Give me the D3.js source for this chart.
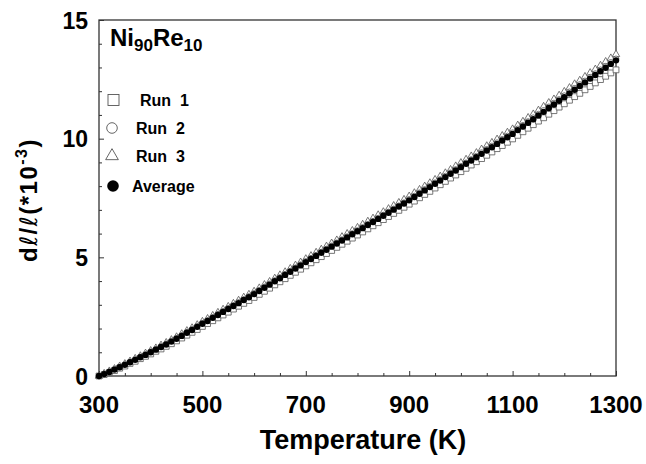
<!DOCTYPE html>
<html><head><meta charset="utf-8">
<script src="https://cdn.jsdelivr.net/npm/d3@7/dist/d3.min.js"></script>
<style>body{margin:0;background:#fff}svg{display:block}text{font-family:"Liberation Sans",Arial,sans-serif;font-weight:bold;fill:#000}</style>
</head><body><svg id="c" width="646" height="464"></svg>
<script>
const temps = [300,310,320,330,340,350,360,370,380,390,400,410,420,430,440,450,460,470,480,490,500,510,520,530,540,550,560,570,580,590,600,610,620,630,640,650,660,670,680,690,700,710,720,730,740,750,760,770,780,790,800,810,820,830,840,850,860,870,880,890,900,910,920,930,940,950,960,970,980,990,1000,1010,1020,1030,1040,1050,1060,1070,1080,1090,1100,1110,1120,1130,1140,1150,1160,1170,1180,1190,1200,1210,1220,1230,1240,1250,1260,1270,1280,1290,1300];
const run1 = [0,0.06,0.14,0.23,0.33,0.42,0.53,0.62,0.73,0.83,0.93,1.04,1.14,1.25,1.36,1.48,1.60,1.72,1.84,1.96,2.09,2.21,2.33,2.45,2.57,2.69,2.82,2.94,3.06,3.18,3.31,3.44,3.57,3.70,3.84,3.97,4.10,4.24,4.37,4.50,4.64,4.77,4.90,5.03,5.16,5.29,5.42,5.55,5.68,5.81,5.94,6.07,6.20,6.33,6.46,6.59,6.72,6.85,6.98,7.11,7.24,7.37,7.51,7.65,7.78,7.92,8.06,8.20,8.34,8.47,8.61,8.75,8.89,9.03,9.16,9.30,9.44,9.58,9.71,9.85,9.99,10.14,10.29,10.44,10.59,10.74,10.88,11.03,11.18,11.33,11.47,11.62,11.77,11.91,12.06,12.20,12.35,12.49,12.63,12.77,12.90];
const run2 = [0,0.09,0.18,0.28,0.38,0.48,0.59,0.69,0.80,0.91,1.02,1.13,1.24,1.35,1.47,1.59,1.71,1.84,1.96,2.09,2.22,2.34,2.47,2.60,2.72,2.85,2.97,3.10,3.22,3.35,3.48,3.61,3.75,3.88,4.02,4.15,4.29,4.42,4.56,4.69,4.83,4.96,5.09,5.22,5.35,5.48,5.61,5.74,5.87,6.00,6.13,6.26,6.39,6.52,6.65,6.78,6.91,7.04,7.17,7.30,7.44,7.58,7.72,7.86,8.00,8.14,8.28,8.42,8.56,8.70,8.84,8.98,9.12,9.26,9.41,9.55,9.69,9.83,9.97,10.11,10.25,10.41,10.56,10.72,10.88,11.03,11.19,11.34,11.50,11.65,11.81,11.97,12.12,12.28,12.43,12.59,12.74,12.90,13.05,13.21,13.36];
const run3 = [0,0.10,0.20,0.30,0.41,0.51,0.62,0.73,0.84,0.95,1.06,1.17,1.29,1.40,1.52,1.64,1.77,1.90,2.02,2.15,2.29,2.41,2.54,2.67,2.80,2.92,3.05,3.18,3.31,3.43,3.56,3.70,3.84,3.97,4.11,4.25,4.38,4.52,4.66,4.79,4.93,5.06,5.20,5.33,5.46,5.59,5.72,5.86,5.99,6.12,6.25,6.38,6.51,6.64,6.78,6.91,7.04,7.17,7.30,7.43,7.57,7.71,7.85,7.99,8.13,8.27,8.41,8.55,8.69,8.84,8.98,9.12,9.26,9.40,9.55,9.69,9.83,9.97,10.12,10.26,10.40,10.56,10.72,10.88,11.03,11.19,11.35,11.51,11.66,11.82,11.98,12.14,12.30,12.45,12.61,12.77,12.92,13.08,13.24,13.39,13.55];
const average = [0,0.08,0.17,0.27,0.37,0.47,0.58,0.68,0.79,0.89,1.00,1.11,1.22,1.33,1.45,1.57,1.69,1.82,1.94,2.07,2.20,2.32,2.45,2.57,2.70,2.82,2.95,3.07,3.20,3.32,3.45,3.58,3.72,3.85,3.99,4.12,4.26,4.39,4.53,4.66,4.80,4.93,5.06,5.19,5.32,5.45,5.58,5.71,5.84,5.97,6.10,6.23,6.36,6.49,6.62,6.75,6.88,7.01,7.14,7.27,7.40,7.54,7.68,7.82,7.96,8.10,8.24,8.38,8.52,8.66,8.80,8.94,9.08,9.22,9.36,9.50,9.64,9.78,9.92,10.06,10.20,10.36,10.51,10.67,10.82,10.98,11.13,11.29,11.44,11.60,11.75,11.91,12.06,12.22,12.37,12.53,12.68,12.84,12.99,13.15,13.30];
const xTicks = [300,500,700,900,1100,1300];
const yTicks = [0,5,10,15];
const legendLabels = ["Run  1","Run  2","Run  3","Average"];

const svg = d3.select("#c");
const L=99, R=616, T=20, B=376;
const x = d3.scaleLinear().domain([300,1300]).range([L,R]);
const y = d3.scaleLinear().domain([0,15]).range([B,T]);
const axisColor = "#333";

// frame
svg.append("rect").attr("x",L).attr("y",T).attr("width",R-L).attr("height",B-T)
  .attr("fill","none").attr("stroke",axisColor).attr("stroke-width",1.3);

// bottom axis: ticks inward
const gx = svg.append("g").attr("transform",`translate(0,${B})`)
  .call(d3.axisBottom(x).tickValues(d3.range(300,1301,50)).tickSize(-3).tickFormat(""));
gx.select(".domain").remove();
gx.selectAll("line").attr("stroke",axisColor).attr("stroke-width",1);
gx.selectAll(".tick").filter(d=>xTicks.includes(d)).select("line").attr("y2",-5);
svg.append("g").selectAll("text").data(xTicks).join("text")
  .attr("x",d=>x(d)).attr("y",413).attr("text-anchor","middle")
  .style("font-size","24px").text(d=>d);

// left axis
const gy = svg.append("g").attr("transform",`translate(${L},0)`)
  .call(d3.axisLeft(y).tickValues(d3.range(0,15.5,1)).tickSize(-3).tickFormat(""));
gy.select(".domain").remove();
gy.selectAll("line").attr("stroke",axisColor).attr("stroke-width",1);
gy.selectAll(".tick").filter(d=>yTicks.includes(d)).select("line").attr("x2",5);
svg.append("g").selectAll("text").data(yTicks).join("text")
  .attr("x",88).attr("y",d=>y(d)+8.5).attr("text-anchor","end")
  .style("font-size","23px").text(d=>d);

// axis titles
svg.append("text").attr("x",363).attr("y",449).attr("text-anchor","middle")
  .style("font-size","27px").text("Temperature (K)");
const yt = svg.append("text").attr("transform","translate(37,200) rotate(-90)")
  .attr("text-anchor","middle").style("font-size","24px").style("letter-spacing","1.5px");
yt.append("tspan").text("d");
yt.append("tspan").style("font-family","DejaVu Sans").style("font-weight","normal").text("\u2113");
yt.append("tspan").text("/");
yt.append("tspan").style("font-family","DejaVu Sans").style("font-weight","normal").text("\u2113");
yt.append("tspan").text("(*10");
yt.append("tspan").attr("dy",-10).style("font-size","16px").text("-3");
yt.append("tspan").attr("dy",10).text(")");

// data markers
const symSq = d3.symbol().type(d3.symbolSquare).size(34);
const symTri = d3.symbol().type(d3.symbolTriangle).size(24);
function pts(arr){return temps.map((t,i)=>[t,arr[i]]);}
svg.append("g").selectAll("path").data(pts(run3)).join("path")
  .attr("transform",d=>`translate(${x(d[0])},${y(d[1])})`).attr("d",symTri())
  .attr("fill","#fff").attr("stroke","#555").attr("stroke-width",0.8);
svg.append("g").selectAll("circle").data(pts(run2)).join("circle")
  .attr("cx",d=>x(d[0])).attr("cy",d=>y(d[1])).attr("r",2.9)
  .attr("fill","#fff").attr("stroke","#555").attr("stroke-width",0.8);
svg.append("g").selectAll("path").data(pts(run1)).join("path")
  .attr("transform",d=>`translate(${x(d[0])},${y(d[1])})`).attr("d",symSq())
  .attr("fill","#fff").attr("stroke","#555").attr("stroke-width",0.8);
svg.append("g").selectAll("circle").data(pts(average)).join("circle")
  .attr("cx",d=>x(d[0])).attr("cy",d=>y(d[1])).attr("r",3.2)
  .attr("fill","#000");

// title
const tt = svg.append("text").attr("x",110).attr("y",46).style("font-size","24px");
tt.append("tspan").text("Ni");
tt.append("tspan").attr("dy",5).style("font-size","17px").text("90");
tt.append("tspan").attr("dy",-5).text("Re");
tt.append("tspan").attr("dy",5).style("font-size","17px").text("10");

// legend
const ly = [100,128,156,186];
const lx = [140,136,136,132];
svg.append("rect").attr("x",108).attr("y",ly[0]-5.5).attr("width",11).attr("height",11)
  .attr("fill","#fff").attr("stroke","#555").attr("stroke-width",0.9);
svg.append("circle").attr("cx",112).attr("cy",ly[1]).attr("r",5.3)
  .attr("fill","#fff").attr("stroke","#555").attr("stroke-width",0.9);
svg.append("path").attr("transform",`translate(112,${ly[2]})`)
  .attr("d",d3.symbol().type(d3.symbolTriangle).size(70)())
  .attr("fill","#fff").attr("stroke","#555").attr("stroke-width",0.9);
svg.append("circle").attr("cx",113).attr("cy",ly[3]).attr("r",5.8).attr("fill","#000");
svg.append("g").selectAll("text").data(legendLabels).join("text")
  .attr("x",(d,i)=>lx[i]).attr("y",(d,i)=>ly[i]+6).style("font-size","16px")
  .style("white-space","pre").attr("xml:space","preserve").text(d=>d);
</script></body></html>
